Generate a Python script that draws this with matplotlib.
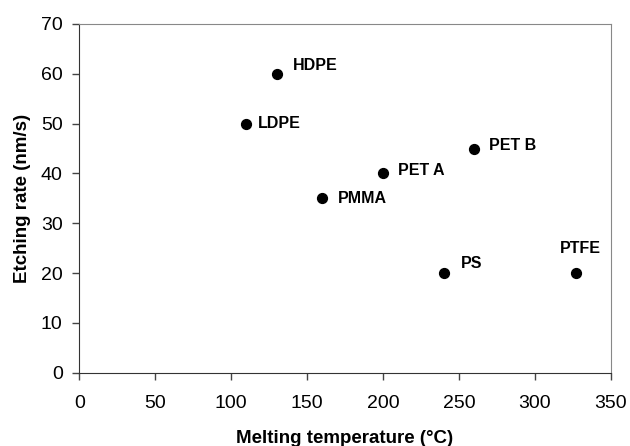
import matplotlib
matplotlib.use("Agg")
import matplotlib.pyplot as plt

names = ["HDPE", "LDPE", "PMMA", "PET A", "PET B", "PS", "PTFE"]
melt_temp = [130, 110, 160, 200, 260, 240, 327]
etch_rate = [60, 50, 35, 40, 45, 20, 20]
label_offsets = [(16, 8), (12, 0), (16, 0), (15, 3), (15, 3), (17, 10), (5, 25)]
label_ha = ["left", "left", "left", "left", "left", "left", "center"]

plt.rcParams['font.family'] = ['Liberation Sans', 'DejaVu Sans']

fig = plt.figure(figsize=(6.30, 4.46), dpi=100)
ax = fig.add_axes([79.3/630, 1 - 372.7/446, (610.7-79.3)/630, (372.7-24)/446])

ax.scatter(melt_temp, etch_rate, s=50, color='black', zorder=3)
for n, x, y, off, ha in zip(names, melt_temp, etch_rate, label_offsets, label_ha):
    ax.annotate(n, (x, y), xytext=(off[0]*0.72, off[1]*0.72), textcoords='offset points',
                ha=ha, va='center', fontsize=11.5, fontweight='bold')

ax.set_xlim(0, 350)
ax.set_ylim(0, 70)
ax.set_xticks(range(0, 351, 50))
ax.set_yticks(range(0, 71, 10))
ax.tick_params(direction='out', length=5, width=1, labelsize=14, color='#444444')
ax.tick_params(axis='x', pad=11)
ax.tick_params(axis='y', pad=7)
for s in ['left', 'bottom']:
    ax.spines[s].set_color('#333333')
for s in ['top', 'right']:
    ax.spines[s].set_color('#888888')
ax.set_xlabel('Melting temperature (°C)', fontsize=13.5, fontweight='bold', labelpad=13)
ax.set_ylabel('Etching rate (nm/s)', fontsize=13.5, fontweight='bold', labelpad=7)

fig.savefig('out.png', dpi=100)
